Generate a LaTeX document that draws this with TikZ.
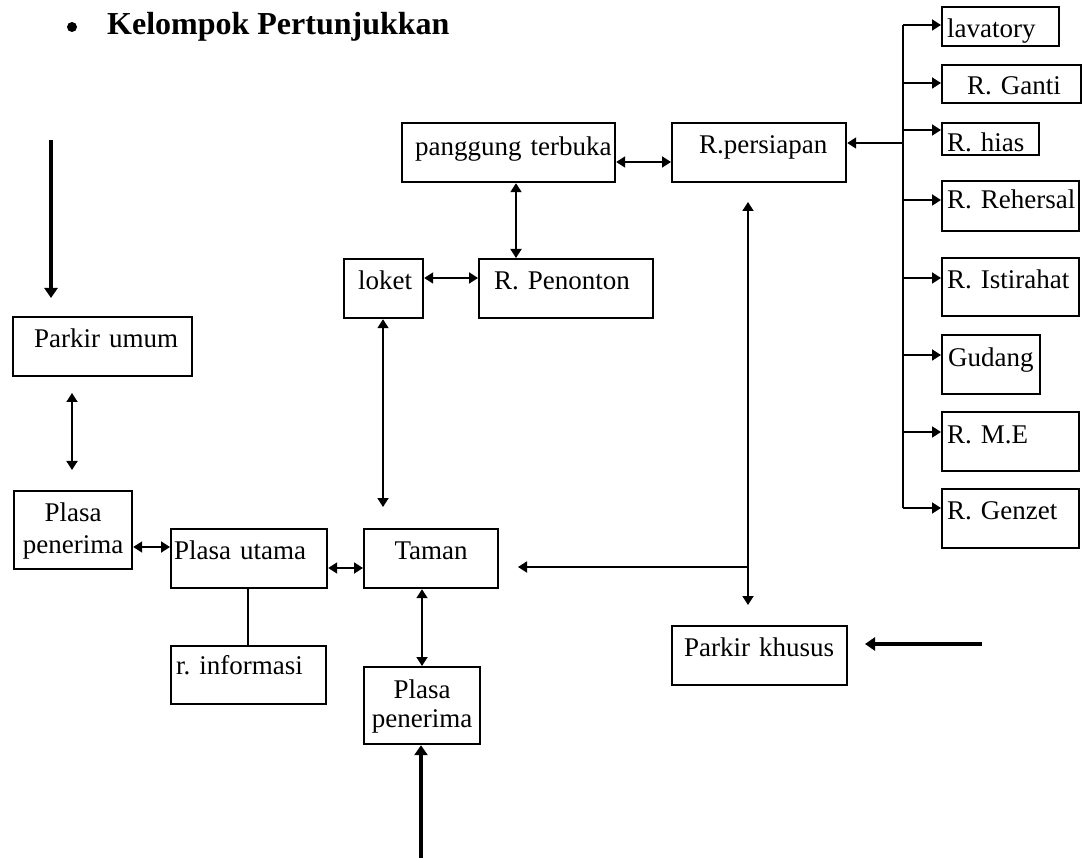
\documentclass[tikz,border=0pt]{standalone}
\usepackage{fontspec}
\setmainfont{Liberation Serif}
\usetikzlibrary{arrows.meta}
\newcommand\boxfont{\fontsize{27pt}{32.4pt}\selectfont\frenchspacing}
\newcommand\titlefont{\fontsize{32pt}{38pt}\selectfont\bfseries}
\begin{document}
\begin{tikzpicture}[x=1pt,y=-1pt,
  box/.style={draw, line width=2.2pt, anchor=north west, inner sep=0pt, font=\boxfont, align=left},
  link/.style={line width=1.8pt},
  both/.style={link, {Triangle[length=9pt,width=11pt]}-{Triangle[length=9pt,width=11pt]}},
  one/.style={link, -{Triangle[length=9pt,width=11pt]}},
  feed/.style={line width=4pt, -{Triangle[length=10pt,width=13pt]}},
]
\useasboundingbox (0,0) rectangle (1082,858);

% heading
\fill (72,27) circle (5pt);
\node[anchor=base west, inner sep=0pt, font=\titlefont] (title) at (107,35) {Kelompok Pertunjukkan};

% performance block
\node[box, text width=213pt, text height=32pt, text depth=27pt] (panggung) at (401,122) {\hspace*{13pt}panggung terbuka};
\node[box, text width=174pt, text height=30pt, text depth=29pt] (persiapan) at (671,122) {\hspace*{27pt}R.persiapan};
\node[box, text width=79pt, text height=30pt, text depth=29pt] (loket) at (343,258) {\hspace*{14pt}loket};
\node[box, text width=174pt, text height=30pt, text depth=29pt] (penonton) at (478,258) {\hspace*{15pt}R. Penonton};

% back-stage rooms
\node[box, text width=117pt, text height=30pt, text depth=9pt] (lavatory) at (941,6) {\hspace*{5pt}lavatory};
\node[box, text width=139pt, text height=29pt, text depth=9pt] (ganti) at (941,64) {\hspace*{25pt}R. Ganti};
\node[box, text width=97pt, text height=28pt, text depth=4pt] (hias) at (941,122) {\hspace*{5pt}R. hias};
\node[box, text width=137pt, text height=27pt, text depth=23pt] (rehersal) at (941,180) {\hspace*{5pt}R. Rehersal};
\node[box, text width=137pt, text height=30pt, text depth=28pt] (istirahat) at (941,257) {\hspace*{5pt}R. Istirahat};
\node[box, text width=98pt, text height=31pt, text depth=28pt] (gudang) at (941,334) {\hspace*{6pt}Gudang};
\node[box, text width=137pt, text height=31pt, text depth=28pt] (me) at (941,411) {\hspace*{5pt}R. M.E};
\node[box, text width=137pt, text height=30pt, text depth=29pt] (genzet) at (941,488) {\hspace*{5pt}R. Genzet};

% entrance side
\node[box, text width=179pt, text height=30pt, text depth=29pt] (umum) at (12,316) {\hspace*{21pt}Parkir umum};
\node[box, align=center, text width=118pt, text height=30pt, text depth=48pt] (plasaL) at (13,490) {Plasa\\penerima};
\node[box, text width=156pt, text height=30pt, text depth=29pt] (utama) at (170,528) {\hspace*{3pt}Plasa utama};
\node[box, text width=155pt, text height=28pt, text depth=30pt] (info) at (170,645) {\hspace*{5pt}r. informasi};
\node[box, align=center, text width=134pt, text height=30pt, text depth=29pt] (taman) at (363,528) {Taman};
\node[box, align=center, text width=116pt, text height=31pt, text depth=46pt] (plasaB) at (363,666) {Plasa\\[-3pt]penerima};
\node[box, text width=175pt, text height=30pt, text depth=29pt] (khusus) at (671,625) {\hspace*{12pt}Parkir khusus};

% links in the performance block
\draw[both] (panggung.east |- 0,162) -- (persiapan.west |- 0,162);
\draw[both] (516,0 |- panggung.south) -- (516,0 |- penonton.north);
\draw[both] (loket.east |- 0,278) -- (penonton.west |- 0,278);
\coordinate (loketEnd) at (383,507);
\draw[both] (loketEnd) -- (loketEnd |- loket.south);

% distribution bus to the back-stage rooms
\coordinate (busTop) at (903,25);
\coordinate (busBot) at (903,508);
\draw[link] (busTop) -- (busBot);
\coordinate (busP) at (903,143);
\draw[one] (busP) -- (busP -| persiapan.east);
\foreach \n/\y in {lavatory/25, ganti/83, hias/130, rehersal/200, istirahat/278, gudang/355, me/432, genzet/508} {
  \coordinate (b\n) at (903,\y);
  \draw[one] (b\n) -- (b\n -| \n.west);
}

% service spine
\coordinate (spineTop) at (748,202);
\coordinate (spineBot) at (748,605);
\coordinate (spineJoin) at (748,567);
\coordinate (tamanIn) at (518,567);
\draw[both] (spineBot) -- (spineTop);
\draw[one] (spineJoin) -- (tamanIn);

% entrance side links
\coordinate (umumFrom) at (51,140);
\coordinate (umumTo) at (51,298);
\draw[feed] (umumFrom) -- (umumTo);
\coordinate (uA) at (72,393);
\coordinate (uB) at (72,470);
\draw[both] (uA) -- (uB);
\draw[both] (plasaL.east |- 0,547) -- (utama.west |- 0,547);
\draw[both] (utama.east |- 0,568) -- (taman.west |- 0,568);
\draw[link] (248,0 |- utama.south) -- (248,0 |- info.north);
\draw[both] (422,0 |- taman.south) -- (422,0 |- plasaB.north);
\coordinate (mainGate) at (421,858);
\draw[feed] (mainGate) -- (mainGate |- plasaB.south);
\coordinate (khususFrom) at (982,644);
\coordinate (khususTo) at (865,644);
\draw[feed] (khususFrom) -- (khususTo);
\end{tikzpicture}
\end{document}
